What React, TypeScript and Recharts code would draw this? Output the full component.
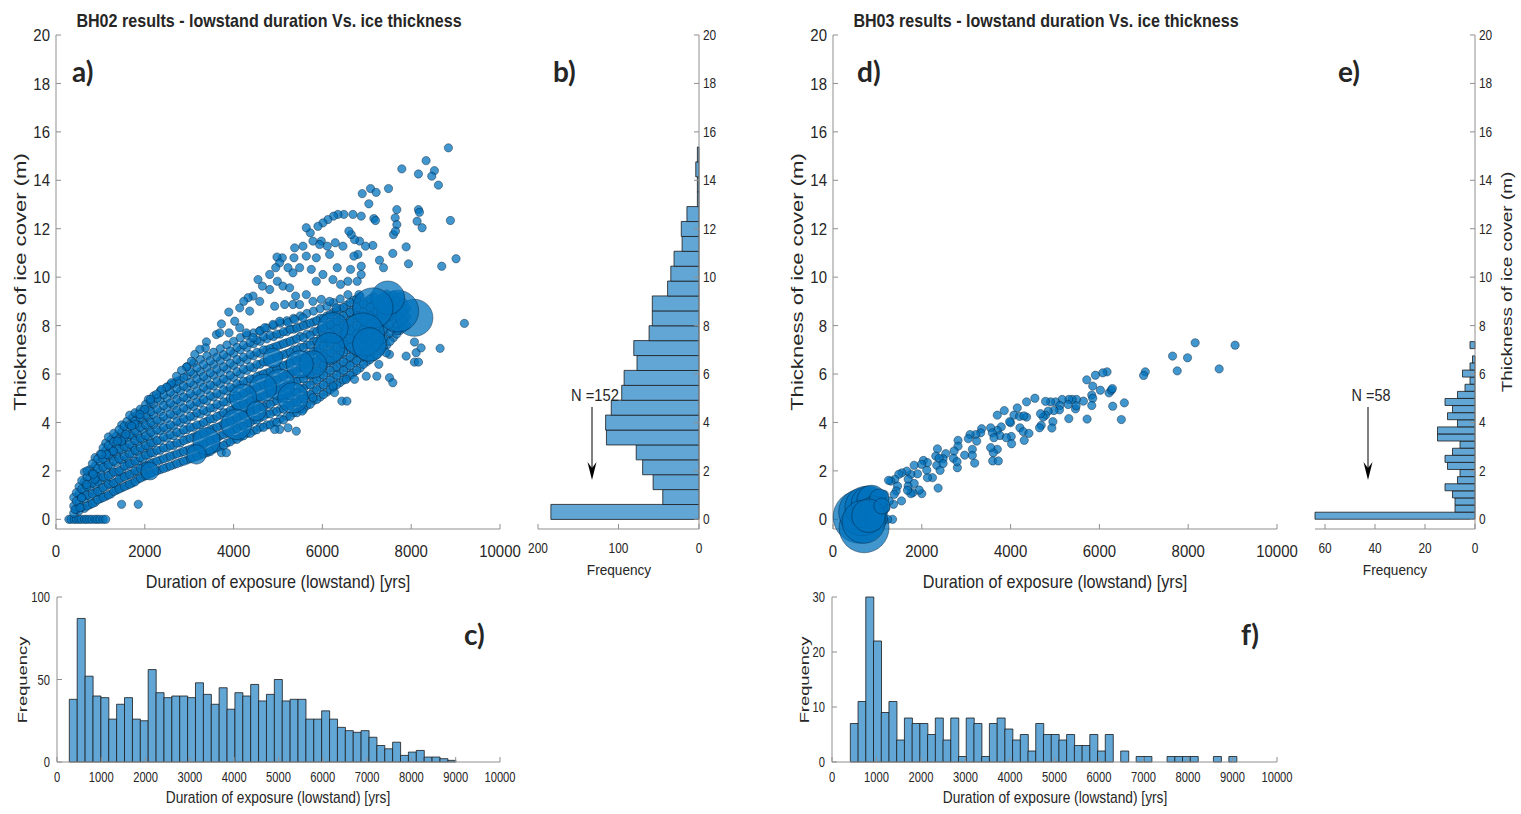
import React from 'react'
import { ScatterChart, Scatter, BarChart, Bar, XAxis, YAxis, ZAxis } from 'recharts'

const FONT = '"Liberation Sans", Arial, Helvetica, sans-serif'
const LETTER_FONT = 'Lato, "Open Sans", sans-serif'
const INK = '#262626'
const BOX = '#8f8f8f'
const DOT = '#0072BD'
const HIST = '#62A6D6'

// ticks
const thicknessTicks = [0, 2, 4, 6, 8, 10, 12, 14, 16, 18, 20]
const durationTicks = [0, 2000, 4000, 6000, 8000, 10000]
const durationTicksFine = [0, 1000, 2000, 3000, 4000, 5000, 6000, 7000, 8000, 9000, 10000]
const freqTicksB = [0, 100, 200]
const freqTicksE = [0, 20, 40, 60]
const freqTicksC = [0, 50, 100]
const freqTicksF = [0, 10, 20, 30]

// BH02 scatter: zero-thickness row, dense core (x, then thicknesses), sparse points, large bubbles [x, y, weight]
const bh02Zero = [290, 340, 410, 460, 520, 570, 640, 690, 750, 810, 880, 930, 990, 1060, 1120]
const bh02Core = [
  [400, 0.25, 0.55, 0.9],
  [520, 0.35, 0.7, 1.05, 1.35],
  [640, 0.45, 0.85, 1.2, 1.55, 1.95],
  [760, 0.6, 0.95, 1.35, 1.7, 2.05],
  [880, 0.7, 1.1, 1.45, 1.85, 2.2, 2.55],
  [1000, 0.85, 1.2, 1.6, 1.95, 2.35, 2.7],
  [1120, 0.95, 1.35, 1.7, 2.1, 2.45, 2.85, 3.15],
  [1240, 1.05, 1.45, 1.85, 2.2, 2.6, 2.95, 3.3],
  [1360, 1.2, 1.55, 1.95, 2.35, 2.7, 3.1, 3.45],
  [1480, 1.3, 1.7, 2.05, 2.45, 2.85, 3.2, 3.6, 3.9],
  [1600, 1.4, 1.8, 2.2, 2.55, 2.95, 3.35, 3.7, 4.05],
  [1720, 1.5, 1.9, 2.3, 2.7, 3.05, 3.45, 3.85, 4.2],
  [1840, 1.65, 2.0, 2.4, 2.8, 3.2, 3.55, 3.95, 4.35],
  [1960, 1.75, 2.15, 2.5, 2.9, 3.3, 3.7, 4.1, 4.5],
  [2080, 1.85, 2.25, 2.65, 3.0, 3.4, 3.8, 4.2, 4.6, 4.95],
  [2200, 1.95, 2.35, 2.75, 3.15, 3.5, 3.9, 4.3, 4.75, 5.1],
  [2350, 2.05, 2.45, 2.85, 3.25, 3.65, 4.05, 4.45, 4.9, 5.3],
  [2500, 2.15, 2.55, 2.95, 3.35, 3.75, 4.15, 4.6, 5.0, 5.45],
  [2650, 2.25, 2.65, 3.05, 3.45, 3.85, 4.3, 4.7, 5.15, 5.6],
  [2800, 2.35, 2.75, 3.15, 3.55, 4.0, 4.4, 4.85, 5.3, 5.75],
  [2950, 2.45, 2.85, 3.3, 3.7, 4.1, 4.55, 5.0, 5.45, 5.9, 6.3],
  [3100, 2.55, 2.95, 3.4, 3.8, 4.25, 4.65, 5.1, 5.55, 6.0, 6.45],
  [3250, 2.65, 3.05, 3.5, 3.9, 4.35, 4.8, 5.2, 5.65, 6.1, 6.6],
  [3400, 2.75, 3.2, 3.6, 4.05, 4.45, 4.9, 5.35, 5.8, 6.25, 6.75],
  [3550, 2.9, 3.3, 3.75, 4.15, 4.6, 5.05, 5.5, 5.95, 6.4, 6.9],
  [3700, 3.0, 3.45, 3.85, 4.3, 4.7, 5.15, 5.6, 6.05, 6.55, 7.05],
  [3850, 3.15, 3.55, 4.0, 4.4, 4.85, 5.3, 5.75, 6.2, 6.7, 7.2],
  [4000, 3.3, 3.7, 4.1, 4.55, 5.0, 5.4, 5.85, 6.35, 6.85, 7.35],
  [4150, 3.4, 3.85, 4.25, 4.7, 5.1, 5.55, 6.0, 6.5, 7.0, 7.5],
  [4300, 3.55, 3.95, 4.4, 4.8, 5.25, 5.7, 6.15, 6.6, 7.1, 7.6],
  [4450, 3.65, 4.1, 4.5, 4.95, 5.35, 5.8, 6.25, 6.75, 7.25, 7.7],
  [4600, 3.8, 4.2, 4.65, 5.05, 5.5, 5.95, 6.4, 6.85, 7.35, 7.8],
  [4750, 3.9, 4.35, 4.75, 5.2, 5.6, 6.05, 6.5, 7.0, 7.45, 7.9],
  [4900, 4.0, 4.45, 4.85, 5.3, 5.75, 6.2, 6.65, 7.1, 7.55, 8.0],
  [5050, 4.15, 4.55, 5.0, 5.4, 5.85, 6.3, 6.75, 7.2, 7.65, 8.1],
  [5200, 4.25, 4.7, 5.1, 5.55, 6.0, 6.4, 6.85, 7.3, 7.75, 8.2],
  [5350, 4.4, 4.8, 5.25, 5.7, 6.1, 6.55, 7.0, 7.4, 7.85, 8.3],
  [5500, 4.55, 4.95, 5.4, 5.8, 6.25, 6.65, 7.1, 7.55, 7.95, 8.4],
  [5650, 4.7, 5.1, 5.55, 5.95, 6.4, 6.8, 7.2, 7.65, 8.05, 8.5],
  [5800, 4.9, 5.3, 5.7, 6.1, 6.5, 6.95, 7.35, 7.75, 8.15, 8.6],
  [5950, 5.05, 5.45, 5.85, 6.25, 6.65, 7.05, 7.45, 7.85, 8.3, 8.7],
  [6100, 5.25, 5.65, 6.05, 6.45, 6.85, 7.25, 7.6, 8.0, 8.4, 8.8],
  [6250, 5.45, 5.85, 6.25, 6.6, 7.0, 7.4, 7.8, 8.15, 8.55, 8.95],
  [6400, 5.65, 6.05, 6.4, 6.8, 7.2, 7.55, 7.95, 8.3, 8.7, 9.1],
  [6550, 5.85, 6.25, 6.6, 7.0, 7.35, 7.75, 8.1, 8.5, 8.85],
  [6700, 6.05, 6.45, 6.8, 7.2, 7.55, 7.9, 8.3, 8.65, 9.05],
  [6850, 6.25, 6.65, 7.0, 7.4, 7.75, 8.1, 8.45, 8.85, 9.2],
  [7000, 6.5, 6.85, 7.25, 7.6, 7.95, 8.3, 8.65, 9.0],
  [7150, 6.7, 7.1, 7.45, 7.8, 8.15, 8.5, 8.85, 9.2],
  [7300, 6.95, 7.3, 7.7, 8.05, 8.4, 8.75, 9.1],
  [7450, 7.2, 7.55, 7.9, 8.25, 8.6, 8.95, 9.3],
  [7600, 7.5, 7.85, 8.2, 8.55, 8.9, 9.25],
  [7750, 7.8, 8.15, 8.5, 8.85, 9.2],
  [7900, 8.0, 8.35, 8.7],
]
// second pass through the dense cloud, between the columns above
const bh02CoreFill = [
  [460, 0.4, 0.75, 1.1],
  [580, 0.5, 0.9, 1.25, 1.6],
  [700, 0.55, 1.0, 1.35, 1.75, 2.0],
  [820, 0.65, 1.05, 1.5, 1.9, 2.3],
  [940, 0.8, 1.15, 1.55, 1.75, 2.1, 2.5],
  [1060, 0.9, 1.3, 1.75, 2.15, 2.5, 2.95],
  [1180, 1.0, 1.45, 1.8, 2.25, 2.65, 3.05, 3.4],
  [1300, 1.15, 1.5, 1.95, 2.4, 2.8, 3.2, 3.55],
  [1420, 1.25, 1.65, 2.0, 2.5, 2.9, 3.3, 3.7],
  [1540, 1.35, 1.75, 2.2, 2.6, 3.0, 3.4, 3.85],
  [1660, 1.45, 1.85, 2.3, 2.7, 3.1, 3.5, 3.9, 4.3],
  [1780, 1.55, 2.0, 2.4, 2.85, 3.25, 3.65, 4.05, 4.4],
  [1900, 1.7, 2.1, 2.55, 2.95, 3.35, 3.8, 4.2, 4.55],
  [2020, 1.8, 2.2, 2.65, 3.05, 3.45, 3.9, 4.3, 4.75],
  [2140, 1.9, 2.3, 2.75, 3.15, 3.6, 4.0, 4.45, 4.85],
  [2275, 2.0, 2.4, 2.85, 3.25, 3.7, 4.1, 4.55, 5.0],
  [2425, 2.1, 2.5, 2.95, 3.4, 3.8, 4.25, 4.7, 5.15],
  [2575, 2.2, 2.6, 3.05, 3.5, 3.9, 4.35, 4.8, 5.25, 5.55],
  [2725, 2.3, 2.7, 3.15, 3.6, 4.05, 4.5, 4.95, 5.4, 5.7],
  [2875, 2.4, 2.8, 3.25, 3.7, 4.15, 4.6, 5.05, 5.5, 5.85],
  [3025, 2.5, 2.9, 3.35, 3.8, 4.25, 4.75, 5.2, 5.65, 6.1],
  [3175, 2.6, 3.0, 3.45, 3.9, 4.4, 4.85, 5.3, 5.8, 6.25],
  [3325, 2.7, 3.1, 3.55, 4.0, 4.5, 4.95, 5.45, 5.9, 6.4],
  [3475, 2.8, 3.25, 3.7, 4.15, 4.6, 5.1, 5.55, 6.05, 6.55],
  [3625, 2.95, 3.35, 3.8, 4.25, 4.75, 5.2, 5.7, 6.2, 6.7],
  [3775, 3.05, 3.5, 3.95, 4.4, 4.85, 5.35, 5.8, 6.3, 6.8],
  [3925, 3.2, 3.6, 4.05, 4.5, 5.0, 5.45, 5.95, 6.45, 6.95],
  [4075, 3.3, 3.75, 4.2, 4.65, 5.1, 5.6, 6.1, 6.6, 7.1],
  [4225, 3.45, 3.85, 4.3, 4.75, 5.2, 5.7, 6.2, 6.7, 7.2],
  [4375, 3.55, 4.0, 4.45, 4.9, 5.35, 5.8, 6.3, 6.8, 7.3],
  [4525, 3.7, 4.1, 4.55, 5.0, 5.45, 5.9, 6.4, 6.9, 7.4],
  [4675, 3.8, 4.25, 4.65, 5.1, 5.55, 6.0, 6.5, 7.0, 7.55],
  [4825, 3.9, 4.35, 4.75, 5.2, 5.65, 6.1, 6.6, 7.05, 7.6],
  [4975, 4.0, 4.45, 4.9, 5.35, 5.75, 6.2, 6.7, 7.15, 7.65],
  [5125, 4.1, 4.55, 5.0, 5.45, 5.9, 6.35, 6.8, 7.25, 7.75],
  [5275, 4.25, 4.7, 5.1, 5.55, 6.0, 6.45, 6.9, 7.35, 7.85],
  [5425, 4.4, 4.85, 5.25, 5.7, 6.1, 6.55, 7.0, 7.45, 7.9],
  [5575, 4.55, 5.0, 5.4, 5.8, 6.25, 6.65, 7.1, 7.5, 8.0],
  [5725, 4.75, 5.15, 5.55, 5.95, 6.35, 6.75, 7.2, 7.6, 8.1],
  [5875, 4.95, 5.35, 5.75, 6.15, 6.55, 6.95, 7.35, 7.75, 8.2],
  [6025, 5.15, 5.55, 5.95, 6.35, 6.75, 7.15, 7.5, 7.9, 8.3],
  [6175, 5.35, 5.75, 6.15, 6.55, 6.9, 7.3, 7.7, 8.05, 8.45],
  [6325, 5.55, 5.95, 6.3, 6.7, 7.1, 7.45, 7.85, 8.2, 8.6],
  [6475, 5.75, 6.15, 6.5, 6.9, 7.25, 7.65, 8.0, 8.4, 8.75],
  [6625, 5.95, 6.35, 6.7, 7.1, 7.45, 7.8, 8.2, 8.55, 8.95],
  [6775, 6.15, 6.55, 6.9, 7.3, 7.65, 8.0, 8.4, 8.75, 9.1],
  [6925, 6.4, 6.75, 7.15, 7.5, 7.85, 8.2, 8.55, 8.9],
  [7075, 6.6, 7.0, 7.35, 7.7, 8.05, 8.4, 8.75, 9.1],
  [7225, 6.8, 7.2, 7.55, 7.9, 8.25, 8.6, 8.95],
  [7375, 7.1, 7.45, 7.8, 8.15, 8.5, 8.85, 9.2],
  [7525, 7.35, 7.7, 8.05, 8.4, 8.75, 9.1],
  [7675, 7.65, 8.0, 8.35, 8.7, 9.05],
  [7825, 7.9, 8.25, 8.6, 8.95],
]
const bh02Sparse = [
  [8838, 15.34], [8336, 14.81], [7789, 14.47], [8163, 14.26], [8523, 14.4], [8463, 14.17], [8613, 13.8],
  [7489, 13.66], [7084, 13.66], [6897, 13.45], [7211, 13.5], [7046, 13.03], [8883, 12.34], [7676, 12.79],
  [7639, 12.45], [7676, 12.17], [8163, 12.79], [8186, 12.68], [8133, 12.31], [8246, 12.04], [7159, 12.42],
  [7196, 12.34], [6874, 12.52], [6687, 12.59], [6484, 12.59], [6349, 12.59], [6252, 12.52], [6124, 12.38],
  [6012, 12.24], [5900, 12.1], [9010, 10.76], [9198, 8.09], [8688, 10.45], [7939, 10.55], [7886, 11.25],
  [7586, 10.98], [7601, 11.76], [7646, 11.9], [7376, 10.39], [7286, 10.7], [7136, 11.31], [6972, 11.28],
  [6837, 11.49], [6724, 11.55], [6649, 11.76], [6597, 11.9], [6799, 10.94], [6874, 10.45], [6874, 10.11],
  [6709, 10.87], [6462, 11.28], [6289, 11.42], [6109, 11.28], [5975, 11.49], [6162, 10.94], [6334, 10.39],
  [6634, 10.32], [6574, 9.83], [6784, 9.83], [6822, 9.28], [6574, 9.28], [6409, 9.7], [6237, 9.9],
  [6012, 10.11], [5862, 9.83], [5750, 10.32], [5637, 10.87], [5862, 10.8], [5937, 11.35], [5787, 11.49],
  [5727, 11.83], [5637, 12.04], [5562, 11.28], [5375, 11.21], [5360, 10.8], [5487, 10.39], [5337, 10.18],
  [5225, 10.39], [5097, 10.8], [4977, 10.83], [5037, 10.59], [4948, 10.39], [4813, 10.11], [4985, 9.83],
  [5112, 9.63], [5262, 9.56], [5397, 9.22], [5337, 8.87], [5487, 8.87], [5637, 9.28], [5787, 9.0],
  [5975, 9.08], [6162, 9.0], [6312, 8.73], [5150, 8.87], [4925, 8.8], [4813, 9.49], [4648, 9.63],
  [4550, 9.9], [4438, 9.22], [4325, 9.15], [4228, 9.0], [4588, 9.0], [4363, 8.6], [4138, 8.73],
  [3891, 8.56], [3726, 8.07], [3613, 7.63], [3688, 7.7], [3898, 7.7], [4026, 8.18], [4138, 7.91],
  [4288, 7.7], [4438, 7.5], [4588, 7.77], [4700, 7.91], [4888, 8.05], [5037, 8.18], [5225, 8.12],
  [5375, 8.25], [5562, 8.32], [3388, 7.33], [3366, 7.08], [3238, 7.02], [3126, 6.81], [3051, 6.53],
  [2939, 6.29], [2826, 6.15], [2714, 5.91], [2601, 5.64], [2489, 5.46], [2376, 5.36], [2264, 5.16],
  [2129, 4.95], [2001, 4.54], [1889, 4.33], [1777, 3.92], [1702, 3.85], [1574, 3.51], [1477, 3.23],
  [1379, 3.23], [1289, 2.82], [1139, 2.68], [1027, 2.68], [877, 1.65], [840, 1.86], [690, 1.44],
  [577, 0.89], [427, 0.41], [540, 0.48],
  [1852, 0.62], [1477, 0.62], [3726, 2.75], [3838, 2.75], [5412, 3.64], [5225, 3.78], [5037, 3.71],
  [4925, 3.71], [5547, 4.47], [5787, 5.02], [6439, 4.88], [6552, 4.88], [6274, 5.23], [6237, 5.5],
  [6537, 5.78], [6724, 5.78], [6987, 5.91], [7226, 5.91], [7511, 5.85], [7586, 5.64], [7511, 6.81],
  [7271, 6.4], [7886, 6.74], [8073, 6.49], [8163, 6.49], [8111, 6.88], [8223, 7.08], [8073, 7.32],
  [8651, 7.06], [7699, 7.8], [7436, 6.88],
]
const bh02Bubbles = [
  [8073, 8.32, 22], [7699, 8.6, 28], [7474, 9.15, 18], [7136, 8.73, 26], [6912, 7.63, 30], [7061, 7.22, 18],
  [6237, 7.91, 15], [6162, 7.08, 15], [5787, 6.4, 12], [5487, 6.4, 12], [5037, 5.57, 15], [5337, 5.02, 15],
  [4663, 5.43, 12], [4213, 5.02, 12], [4063, 3.92, 15], [3388, 3.23, 12], [3163, 2.68, 6], [2114, 1.99, 5],
  [4888, 6.67, 6], [4513, 4.47, 6],
]

// BH03 scatter
const bh03Zero = [480, 560, 640, 730, 810, 900, 980, 1070, 1150]
const bh03Sparse = [
  [9056, 7.19], [8157, 7.29], [8697, 6.21], [7648, 6.74], [7985, 6.67], [7753, 6.13], [7034, 6.09], [6996, 5.94],
  [6562, 4.81], [6300, 4.67], [6494, 4.12], [6172, 6.09], [6075, 6.05], [5910, 5.95], [5715, 5.76], [5850, 5.5],
  [5828, 5.13], [5850, 5.0], [5828, 4.7], [5723, 4.14], [6022, 5.33], [6217, 5.22], [6270, 5.33], [6292, 5.4],
  [5640, 4.88], [5483, 4.95], [5386, 4.95], [5311, 4.95], [5296, 4.74], [5461, 4.56], [5476, 4.69], [5311, 4.16],
  [5161, 4.95], [5011, 4.85], [4899, 4.85], [4787, 4.87], [5109, 4.7], [5101, 4.52], [4974, 4.49], [4846, 4.47],
  [4787, 4.3], [4734, 4.22], [4674, 4.36], [4689, 3.88], [4652, 3.78], [4952, 4.03], [4929, 3.77], [4547, 5.0],
  [4360, 4.85], [4150, 4.6], [4075, 4.3], [4202, 4.25], [4360, 4.22], [4300, 4.27], [4210, 3.78], [4285, 3.62],
  [4412, 3.55], [4307, 3.26], [4000, 3.99], [3978, 4.03], [4015, 3.42], [4022, 3.12], [3858, 4.49], [3700, 4.3],
  [3790, 3.82], [3700, 3.67], [3760, 3.46], [3903, 3.37], [3700, 2.89], [3610, 2.75], [3551, 2.96], [3596, 2.41],
  [3723, 2.41], [3551, 3.78], [3588, 3.57], [3625, 3.37], [3348, 3.74], [3326, 3.57], [3213, 3.5], [3086, 3.5],
  [3048, 3.33], [3236, 3.23], [2816, 3.26], [2816, 3.02], [2801, 2.13], [2966, 2.65], [3138, 2.89], [3138, 2.64],
  [3191, 2.32], [2727, 2.82], [2712, 2.52], [2794, 2.38], [2539, 2.71], [2479, 2.5], [2352, 2.91], [2315, 2.61],
  [2390, 2.52], [2337, 2.23], [2412, 2.02], [2479, 2.3], [2367, 1.29], [2240, 1.72], [2127, 1.72], [2112, 2.03],
  [2037, 2.43], [2127, 2.34], [1993, 2.27], [2000, 1.06], [1940, 1.21], [1903, 1.88], [1828, 2.23], [1753, 1.86],
  [1663, 1.99], [1693, 1.65], [1693, 1.37], [1828, 1.48], [1798, 1.1], [1753, 1.06], [1678, 1.2], [1551, 1.92],
  [1483, 1.86], [1543, 0.76], [1393, 1.65], [1453, 1.37], [1423, 1.17], [1378, 1.03], [1303, 1.58], [1251, 1.61],
  [1363, 0.62], [1341, 0], [1228, 0], [1266, 0.76], [1191, 0.45], [1154, 1.03], [1041, 1.03],
]
const bh03Bubbles = [
  [600, 0.1, 45], [700, -0.35, 40], [660, 0.3, 36], [740, 0.5, 28], [810, 0.65, 20], [870, 0.8, 14],
  [930, 0.4, 12], [960, 0.05, 9], [1040, 0.85, 6], [690, -0.1, 30], [800, 0.15, 18], [1100, 0.55, 4],
]

// histograms: counts per bin
const bh02ThickCounts = [184, 45, 57, 70, 78, 115, 116, 109, 96, 93, 77, 81, 62, 58, 58, 39, 35, 31, 21, 22, 15, 2, 2, 4, 2]
const bh02ThickBin = 0.615
const bh02DurCounts = [
  38, 87, 52, 40, 39, 26, 35, 39, 26, 25, 56, 42, 39, 40, 40, 39, 48, 41, 35, 45, 32, 42, 40, 47, 37,
  41, 50, 37, 38, 38, 26, 26, 31, 26, 21, 19, 18, 19, 15, 10, 8, 12, 4, 6, 7, 3, 3, 2, 1,
]
const bh02DurStart = 278
const bh02DurBin = 178
const bh03ThickCounts = [64, 8, 8, 9, 12, 7, 6, 11, 12, 9, 6, 15, 15, 7, 11, 9, 12, 7, 4, 2, 5, 2, 1, 0, 2]
const bh03ThickBin = 0.2935
const bh03DurCounts = [
  7, 11, 30, 22, 9, 11, 4, 8, 7, 7, 5, 8, 4, 8, 1, 8, 7, 1, 7, 8, 6, 4, 5, 2, 7,
  5, 5, 4, 5, 3, 3, 5, 2, 5, 0, 2, 0, 1, 1, 0, 0, 1, 1, 1, 1, 0, 0, 1, 0, 1,
]
const bh03DurStart = 412
const bh03DurBin = 173.6

type Pt = { x: number; y: number; z: number }
const toPoints = (zero: number[], core: number[][], sparse: number[][], bubbles: number[][]): Pt[] => [
  ...zero.map((x) => ({ x, y: 0, z: 1 })),
  ...core.flatMap(([x, ...ys]) => ys.map((y) => ({ x, y, z: 1 }))),
  ...sparse.map(([x, y]) => ({ x, y, z: 1 })),
  ...bubbles.map(([x, y, z]) => ({ x, y, z })),
]
const toBins = (counts: number[], start: number, width: number) =>
  counts.map((n, i) => ({ c: start + (i + 0.5) * width, n }))

const bh02Points = toPoints(bh02Zero, [...bh02Core, ...bh02CoreFill], bh02Sparse, bh02Bubbles)
const bh03Points = toPoints(bh03Zero, [], bh03Sparse, bh03Bubbles)

type Plot = { left: number; top: number; width: number; height: number }
const PLOT_A: Plot = { left: 56, top: 35, width: 444, height: 494 }
const PLOT_B: Plot = { left: 538, top: 35, width: 161, height: 494 }
const PLOT_C: Plot = { left: 57, top: 597, width: 443, height: 165 }
const PLOT_D: Plot = { left: 833, top: 35, width: 444, height: 494 }
const PLOT_E: Plot = { left: 1315, top: 35, width: 160, height: 494 }
const PLOT_F: Plot = { left: 832, top: 597, width: 445, height: 165 }

const noTick = () => <g />

const tickText = (tx: number, ty: number, size: number, sx: number, anchor: string, value: any) => (
  <text
    x={0}
    y={0}
    transform={`translate(${tx},${ty}) scale(${sx},1)`}
    textAnchor={anchor}
    fontSize={size}
    fontFamily={FONT}
    fill={INK}
  >
    {value}
  </text>
)
const bottomTick = (size: number, sx: number, gap: number) => (p: any) =>
  tickText(p.x, p.y + gap + size * 0.72, size, sx, 'middle', p.payload.value)
const leftTick = (size: number, sx: number, gap: number) => (p: any) =>
  tickText(p.x - gap, p.y + size * 0.36, size, sx, 'end', p.payload.value)
const rightTick = (size: number, sx: number, gap: number) => (p: any) =>
  tickText(p.x + gap, p.y + size * 0.36, size, sx, 'start', p.payload.value)

function ScatterPanel({ plot, data }: { plot: Plot; data: Pt[] }) {
  const ML = 52, MR = 26, MT = 8, MB = 40
  return (
    <div style={{ position: 'absolute', left: plot.left - ML, top: plot.top - MT }}>
      <ScatterChart
        width={plot.width + ML + MR}
        height={plot.height + MT + MB}
        margin={{ top: MT, right: MR, bottom: 0, left: 0 }}
      >
        <XAxis xAxisId="b" type="number" dataKey="x" domain={[0, 10000]} ticks={durationTicks} interval={0}
          height={MB} stroke={BOX} tickSize={-5} tickMargin={5} tick={bottomTick(17, 0.88, 16)} />
        <XAxis xAxisId="t" orientation="top" type="number" dataKey="x" domain={[0, 10000]} ticks={durationTicks}
          interval={0} height={0} stroke={BOX} tickSize={-5} tick={noTick} />
        <YAxis yAxisId="l" type="number" dataKey="y" domain={[-0.4, 20]} ticks={thicknessTicks} interval={0}
          width={ML} stroke={BOX} tickSize={-5} tickMargin={5} tick={leftTick(17, 0.88, 6)} />
        <YAxis yAxisId="r" orientation="right" type="number" dataKey="y" domain={[-0.4, 20]} ticks={thicknessTicks}
          interval={0} width={0} stroke={BOX} tickSize={-5} tick={noTick} />
        <ZAxis zAxisId="z" type="number" dataKey="z" domain={[1, 45]} range={[54, 2200]} />
        <Scatter
          xAxisId="b"
          yAxisId="l"
          zAxisId="z"
          data={data}
          fill={DOT}
          fillOpacity={0.74}
          stroke="#06192b"
          strokeOpacity={0.6}
          strokeWidth={0.7}
          isAnimationActive={false}
        />
      </ScatterChart>
    </div>
  )
}

function DurationHist({ plot, data, yMax, yTicks }: { plot: Plot; data: { c: number; n: number }[]; yMax: number; yTicks: number[] }) {
  const ML = 52, MR = 26, MT = 8, MB = 34
  return (
    <div style={{ position: 'absolute', left: plot.left - ML, top: plot.top - MT }}>
      <BarChart
        width={plot.width + ML + MR}
        height={plot.height + MT + MB}
        margin={{ top: MT, right: MR, bottom: 0, left: 0 }}
        data={data}
        barCategoryGap={0}
        barGap={0}
      >
        <XAxis xAxisId="b" type="number" dataKey="c" domain={[0, 10000]} ticks={durationTicksFine} interval={0}
          height={MB} stroke={BOX} tickSize={-5} tickMargin={5} tick={bottomTick(14, 0.8, 10)} />
        <XAxis xAxisId="t" orientation="top" type="number" dataKey="c" domain={[0, 10000]} ticks={durationTicksFine}
          interval={0} height={0} stroke={BOX} tickSize={-5} tick={noTick} />
        <YAxis yAxisId="l" type="number" domain={[0, yMax]} ticks={yTicks} interval={0} width={ML} stroke={BOX}
          tickSize={-5} tickMargin={5} tick={leftTick(14, 0.8, 7)} />
        <YAxis yAxisId="r" orientation="right" type="number" domain={[0, yMax]} ticks={yTicks} interval={0}
          width={0} stroke={BOX} tickSize={-5} tick={noTick} />
        <Bar xAxisId="b" yAxisId="l" dataKey="n" fill={HIST} stroke="#1a1a1a" strokeWidth={0.8}
          isAnimationActive={false} />
      </BarChart>
    </div>
  )
}

function ThicknessHist({ plot, data, xMax, xTicks }: { plot: Plot; data: { c: number; n: number }[]; xMax: number; xTicks: number[] }) {
  const ML = 24, MR = 30, MT = 8, MB = 34
  return (
    <div style={{ position: 'absolute', left: plot.left - ML, top: plot.top - MT }}>
      <BarChart
        layout="vertical"
        width={plot.width + ML + MR}
        height={plot.height + MT + MB}
        margin={{ top: MT, right: 0, bottom: 0, left: ML }}
        data={data}
        barCategoryGap={0}
        barGap={0}
      >
        <XAxis xAxisId="b" type="number" domain={[0, xMax]} reversed ticks={xTicks} interval={0} height={MB}
          stroke={BOX} tickSize={-5} tickMargin={5} tick={bottomTick(14, 0.85, 14)} />
        <XAxis xAxisId="t" orientation="top" type="number" domain={[0, xMax]} reversed ticks={xTicks} interval={0}
          height={0} stroke={BOX} tickSize={-5} tick={noTick} />
        <YAxis yAxisId="l" type="number" dataKey="c" domain={[-0.4, 20]} reversed ticks={thicknessTicks} interval={0}
          width={0} stroke={BOX} tickSize={-5} tick={noTick} />
        <YAxis yAxisId="r" orientation="right" type="number" dataKey="c" domain={[-0.4, 20]} reversed
          ticks={thicknessTicks} interval={0} width={MR} stroke={BOX} tickSize={-5} tickMargin={5}
          tick={rightTick(14, 0.85, 4)} />
        <Bar xAxisId="b" yAxisId="r" dataKey="n" fill={HIST} stroke="#1a1a1a" strokeWidth={0.8}
          isAnimationActive={false} />
      </BarChart>
    </div>
  )
}

function Txt({ x, y, size, sx = 1, rotate = 0, weight = 400, anchor = 'middle', family = FONT, dy, children }: any) {
  return (
    <text
      transform={`translate(${x},${y}) rotate(${rotate}) scale(${sx},1)`}
      fontSize={size}
      fontWeight={weight}
      fontFamily={family}
      textAnchor={anchor}
      dy={dy}
      fill={INK}
    >
      {children}
    </text>
  )
}

function Arrow({ x, y1, y2 }: { x: number; y1: number; y2: number }) {
  return (
    <g>
      <line x1={x} y1={y1} x2={x} y2={y2 - 6} stroke="#000" strokeWidth={1} />
      <polygon points={`${x},${y2} ${x - 4.5},${y2 - 18} ${x},${y2 - 12} ${x + 4.5},${y2 - 18}`} fill="#000" />
    </g>
  )
}

export default function App() {
  const title = 'lowstand duration Vs. ice thickness'
  const dur = 'Duration of exposure (lowstand) [yrs]'
  const thick = 'Thickness of ice cover (m)'
  return (
    <div style={{ position: 'absolute', left: 0, top: 0, width: 1521, height: 814, background: '#fff', overflow: 'hidden' }}>
      <ScatterPanel plot={PLOT_A} data={bh02Points} />
      <ThicknessHist plot={PLOT_B} data={toBins(bh02ThickCounts, 0, bh02ThickBin)} xMax={200} xTicks={freqTicksB} />
      <DurationHist plot={PLOT_C} data={toBins(bh02DurCounts, bh02DurStart, bh02DurBin)} yMax={100} yTicks={freqTicksC} />
      <ScatterPanel plot={PLOT_D} data={bh03Points} />
      <ThicknessHist plot={PLOT_E} data={toBins(bh03ThickCounts, 0, bh03ThickBin)} xMax={64} xTicks={freqTicksE} />
      <DurationHist plot={PLOT_F} data={toBins(bh03DurCounts, bh03DurStart, bh03DurBin)} yMax={30} yTicks={freqTicksF} />

      <svg width={1521} height={814} style={{ position: 'absolute', left: 0, top: 0, pointerEvents: 'none' }}>
        <Txt x={269} y={27} size={17.5} sx={0.92} weight={700}>{`BH02 results - ${title}`}</Txt>
        <Txt x={1046} y={27} size={17.5} sx={0.92} weight={700}>{`BH03 results - ${title}`}</Txt>

        <Txt x={20} y={282} size={17} sx={1.3} rotate={-90} dy="0.35em">{thick}</Txt>
        <Txt x={797} y={282} size={17} sx={1.3} rotate={-90} dy="0.35em">{thick}</Txt>
        <Txt x={1507} y={282} size={15.5} sx={1.22} rotate={-90} dy="0.35em">{thick}</Txt>
        <Txt x={22} y={680} size={13.5} sx={1.36} rotate={-90} dy="0.35em">Frequency</Txt>
        <Txt x={804} y={680} size={13.5} sx={1.36} rotate={-90} dy="0.35em">Frequency</Txt>

        <Txt x={278} y={588} size={18} sx={0.9}>{dur}</Txt>
        <Txt x={1055} y={588} size={18} sx={0.9}>{dur}</Txt>
        <Txt x={278} y={803} size={16} sx={0.86}>{dur}</Txt>
        <Txt x={1055} y={803} size={16} sx={0.86}>{dur}</Txt>
        <Txt x={619} y={575} size={15.5} sx={0.88}>Frequency</Txt>
        <Txt x={1395} y={575} size={15.5} sx={0.88}>Frequency</Txt>

        <Txt x={72} y={82} size={28} weight={700} anchor="start" family={LETTER_FONT}>a)</Txt>
        <Txt x={553} y={82} size={28} weight={700} anchor="start" family={LETTER_FONT}>b)</Txt>
        <Txt x={464} y={645} size={28} weight={700} anchor="start" family={LETTER_FONT}>c)</Txt>
        <Txt x={857} y={82} size={28} weight={700} anchor="start" family={LETTER_FONT}>d)</Txt>
        <Txt x={1338} y={82} size={28} weight={700} anchor="start" family={LETTER_FONT}>e)</Txt>
        <Txt x={1241} y={645} size={28} weight={700} anchor="start" family={LETTER_FONT}>f)</Txt>

        <Txt x={595} y={401} size={16} sx={0.92}>N =152</Txt>
        <Arrow x={592} y1={407} y2={480} />
        <Txt x={1371} y={401} size={16} sx={0.9}>N =58</Txt>
        <Arrow x={1368} y1={407} y2={480} />
      </svg>
    </div>
  )
}
